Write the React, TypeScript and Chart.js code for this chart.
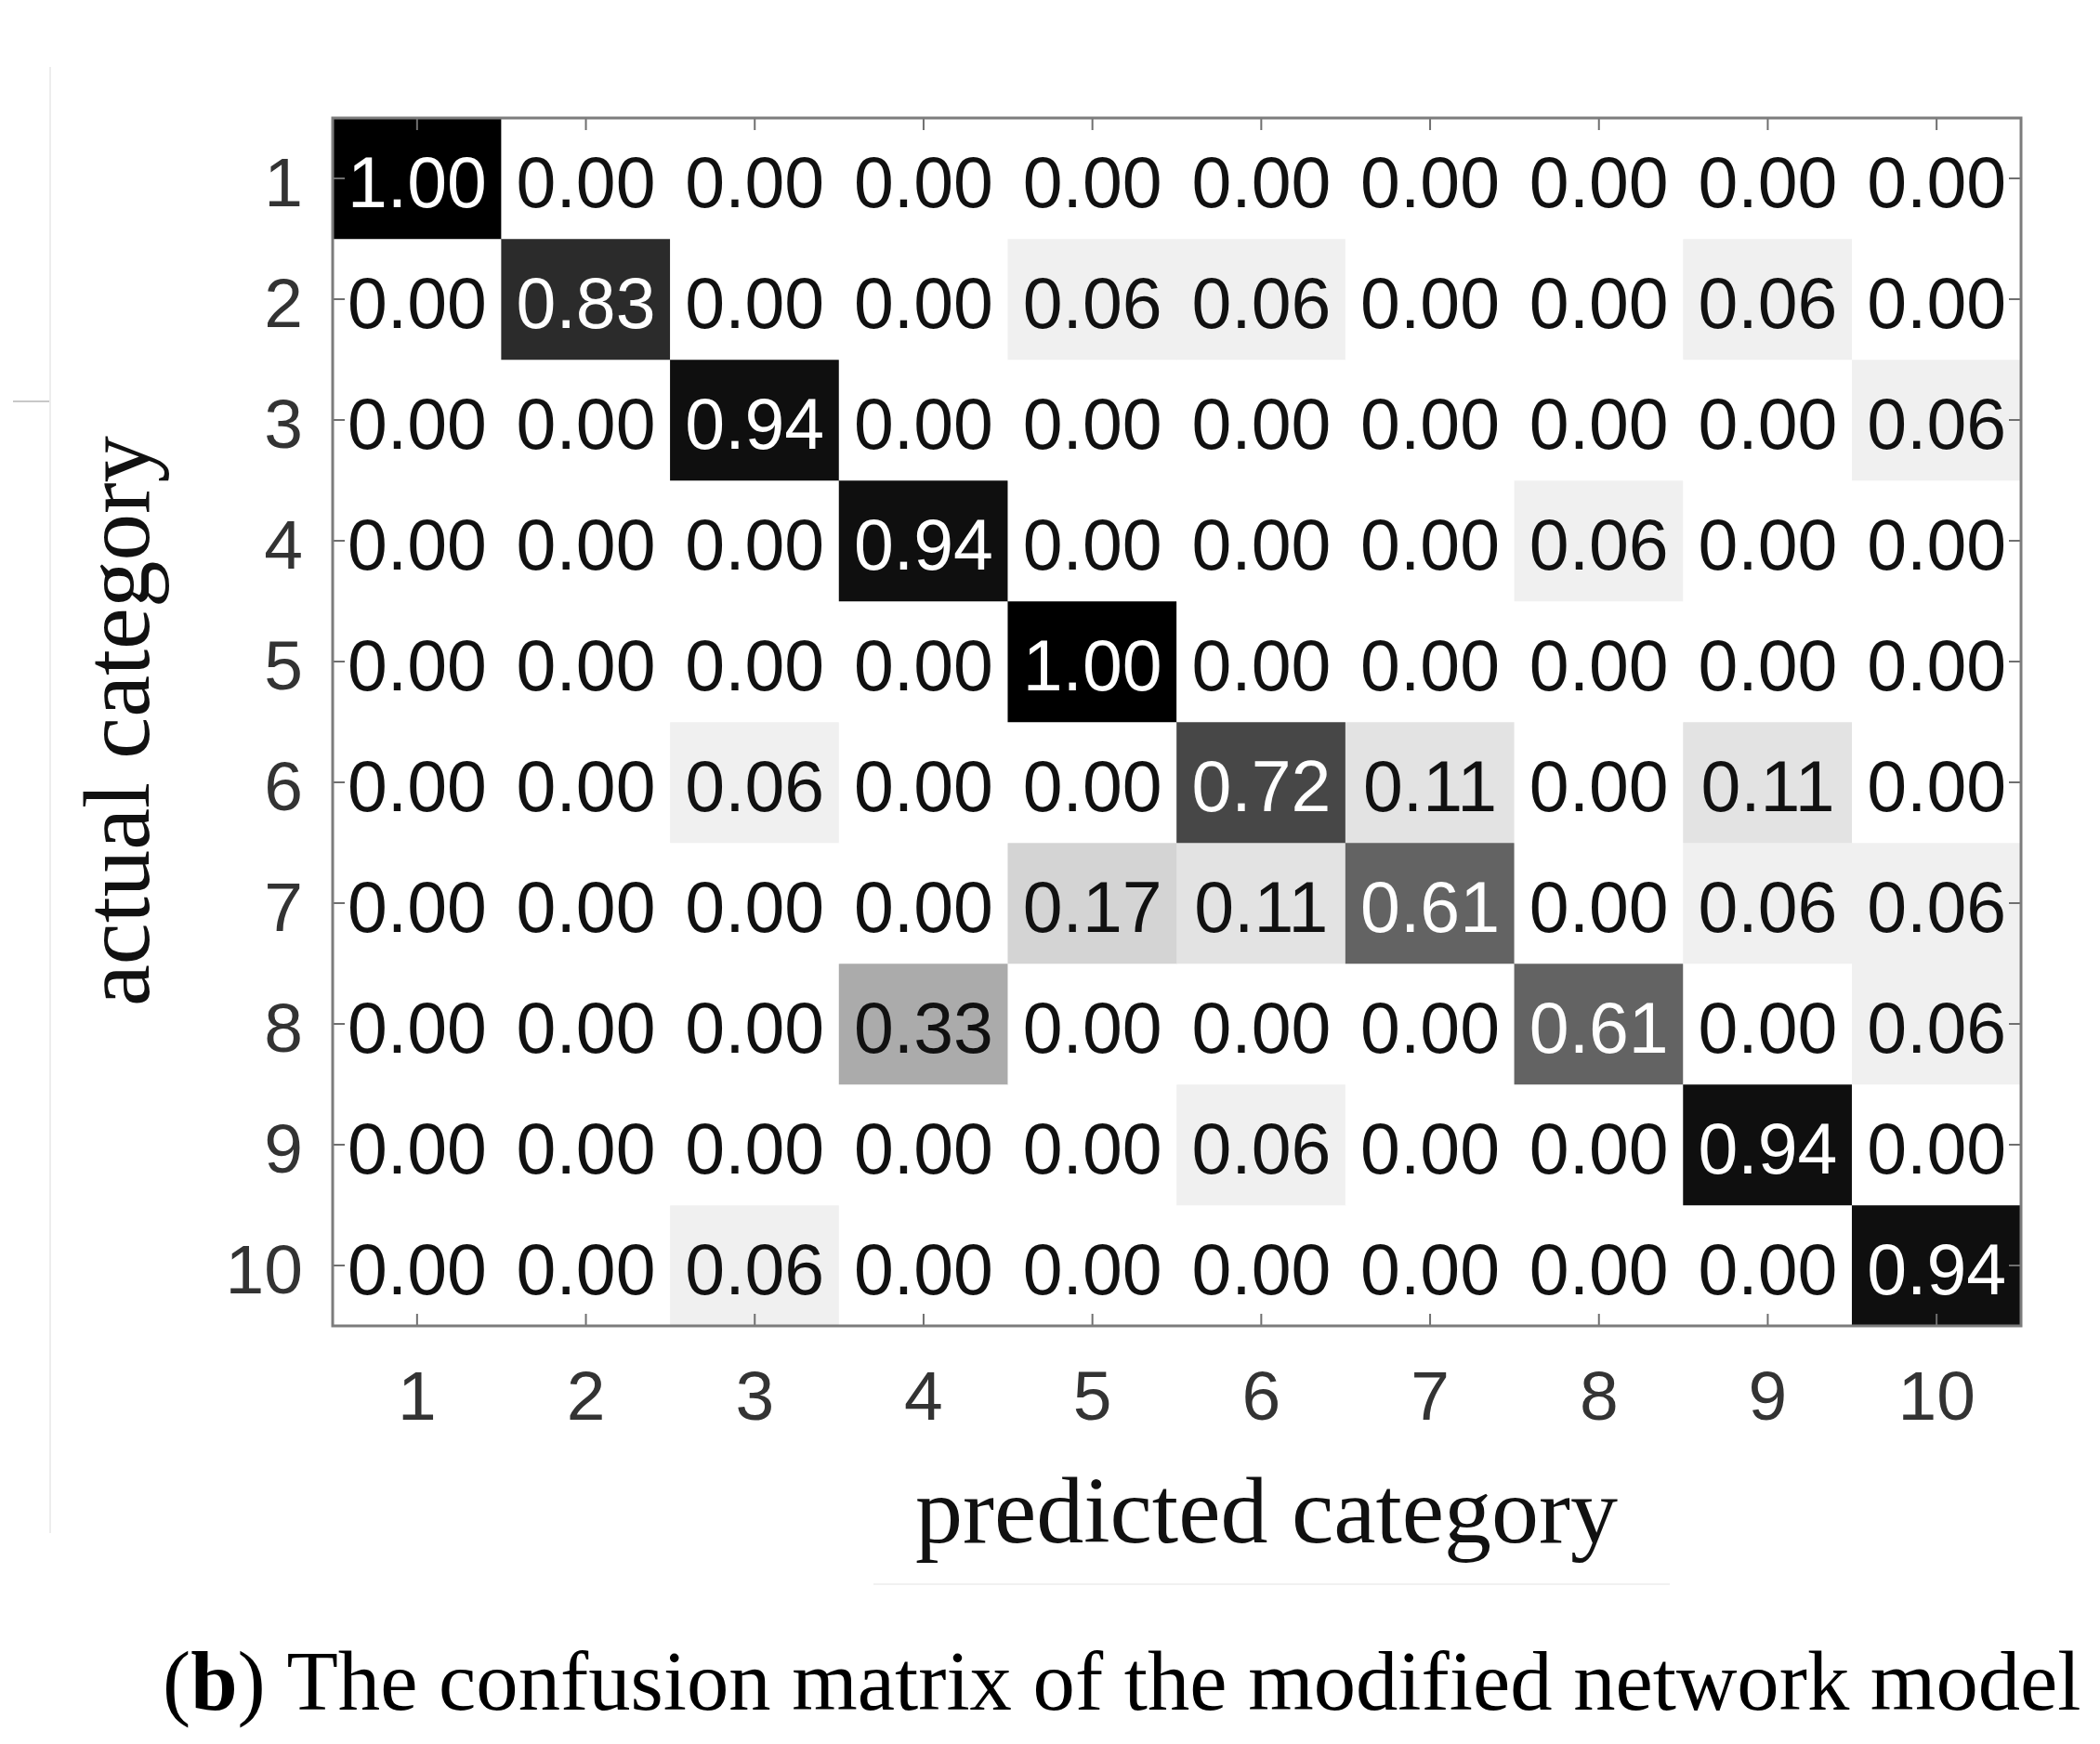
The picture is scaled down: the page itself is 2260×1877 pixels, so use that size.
import React, { useEffect, useRef } from "react";
import { Chart, registerables } from "chart.js";

Chart.register(...registerables);

// ---- data ----
const predictedLabels = ["1", "2", "3", "4", "5", "6", "7", "8", "9", "10"];
const actualLabels = ["1", "2", "3", "4", "5", "6", "7", "8", "9", "10"];

const row1 = [1.0, 0.0, 0.0, 0.0, 0.0, 0.0, 0.0, 0.0, 0.0, 0.0];
const row2 = [0.0, 0.83, 0.0, 0.0, 0.06, 0.06, 0.0, 0.0, 0.06, 0.0];
const row3 = [0.0, 0.0, 0.94, 0.0, 0.0, 0.0, 0.0, 0.0, 0.0, 0.06];
const row4 = [0.0, 0.0, 0.0, 0.94, 0.0, 0.0, 0.0, 0.06, 0.0, 0.0];
const row5 = [0.0, 0.0, 0.0, 0.0, 1.0, 0.0, 0.0, 0.0, 0.0, 0.0];
const row6 = [0.0, 0.0, 0.06, 0.0, 0.0, 0.72, 0.11, 0.0, 0.11, 0.0];
const row7 = [0.0, 0.0, 0.0, 0.0, 0.17, 0.11, 0.61, 0.0, 0.06, 0.06];
const row8 = [0.0, 0.0, 0.0, 0.33, 0.0, 0.0, 0.0, 0.61, 0.0, 0.06];
const row9 = [0.0, 0.0, 0.0, 0.0, 0.0, 0.06, 0.0, 0.0, 0.94, 0.0];
const row10 = [0.0, 0.0, 0.06, 0.0, 0.0, 0.0, 0.0, 0.0, 0.0, 0.94];
const matrix = [row1, row2, row3, row4, row5, row6, row7, row8, row9, row10];

const xTitle = "predicted category";
const yTitle = "actual category";
const captionOpen = "(";
const captionBold = "b";
const captionRest = ") The confusion matrix of the modified network model";

// ---- styling ----
const W = 2260;
const H = 1877;
const SANS = '"Liberation Sans", Arial, sans-serif';
const SERIF = '"Liberation Serif", "Times New Roman", serif';
const NUM_SIZE = 77;

function cellColor(v: number): string {
  const g = Math.round(255 * (1 - v));
  return `rgb(${g},${g},${g})`;
}

const cellTextPlugin = {
  id: "cellText",
  afterDatasetsDraw(chart: any) {
    const ctx = chart.ctx;
    ctx.save();
    ctx.font = `${NUM_SIZE}px ${SANS}`;
    ctx.textAlign = "center";
    ctx.textBaseline = "alphabetic";
    chart.data.datasets.forEach((_ds: any, di: number) => {
      const meta = chart.getDatasetMeta(di);
      meta.data.forEach((bar: any, ci: number) => {
        const v = matrix[di][ci];
        const cy = (bar.y + bar.base) / 2;
        ctx.fillStyle = v > 0.5 ? "#ffffff" : "#111111";
        ctx.fillText(v.toFixed(2), bar.x, cy + (NUM_SIZE * 0.716) / 2 + 3);
      });
    });
    ctx.restore();
  },
};

const framePlugin = {
  id: "frameAndTitles",
  afterDraw(chart: any) {
    const ctx = chart.ctx;
    const { left, right, top, bottom } = chart.chartArea;
    const xs = chart.scales.x;
    const ys = chart.scales.y;
    ctx.save();
    const line = (x1: number, y1: number, x2: number, y2: number) => {
      ctx.beginPath();
      ctx.moveTo(x1, y1);
      ctx.lineTo(x2, y2);
      ctx.stroke();
    };
    // ticks
    ctx.strokeStyle = "#6f6f6f";
    ctx.lineWidth = 2;
    const tl = 13;
    xs.ticks.forEach((_t: any, i: number) => {
      const px = xs.getPixelForTick(i);
      line(px, bottom, px, bottom - tl);
      line(px, top, px, top + tl);
    });
    ys.ticks.forEach((_t: any, i: number) => {
      const py = ys.getPixelForTick(i);
      line(left, py, left + tl, py);
      line(right, py, right - tl, py);
    });
    // frame
    ctx.strokeStyle = "#7c7c7c";
    ctx.lineWidth = 3;
    ctx.strokeRect(left, top, right - left, bottom - top);

    // faint scan borders
    ctx.strokeStyle = "#ededed";
    ctx.lineWidth = 2;
    line(54, 72, 54, 1650);
    ctx.strokeStyle = "#c8c8c8";
    line(14, 432, 53, 432);
    ctx.strokeStyle = "#f1f1f1";
    line(940, 1705, 1797, 1705);

    // axis titles
    ctx.fillStyle = "#111111";
    ctx.font = `102px ${SERIF}`;
    ctx.textAlign = "center";
    ctx.textBaseline = "alphabetic";
    ctx.fillText(xTitle, 1363, 1660);

    ctx.save();
    ctx.translate(160, 776);
    ctx.rotate(-Math.PI / 2);
    ctx.font = `101px ${SERIF}`;
    ctx.fillText(yTitle, 0, 0);
    ctx.restore();

    // caption
    ctx.fillStyle = "#000000";
    ctx.textAlign = "left";
    ctx.font = `100px ${SERIF}`;
    const w1 = ctx.measureText(captionOpen).width;
    const w3 = ctx.measureText(captionRest).width;
    ctx.font = `bold 100px ${SERIF}`;
    const w2 = ctx.measureText(captionBold).width;
    const size = (100 * 2065) / (w1 + w2 + w3);
    let cx = 175;
    const by = 1840;
    ctx.font = `${size}px ${SERIF}`;
    ctx.fillText(captionOpen, cx, by);
    cx += ctx.measureText(captionOpen).width;
    ctx.font = `bold ${size}px ${SERIF}`;
    ctx.fillText(captionBold, cx, by);
    cx += ctx.measureText(captionBold).width;
    ctx.font = `${size}px ${SERIF}`;
    ctx.fillText(captionRest, cx, by);

    ctx.restore();
  },
};

export default function App() {
  const canvasRef = useRef<HTMLCanvasElement | null>(null);

  useEffect(() => {
    if (!canvasRef.current) return;
    const datasets = matrix.map((row, ri) => ({
      label: actualLabels[ri],
      data: row.map(() => [ri + 0.5, ri + 1.5]),
      backgroundColor: row.map((v) => cellColor(v)),
      borderWidth: 0,
      borderSkipped: false,
      barPercentage: 1,
      categoryPercentage: 1,
      grouped: false,
    }));

    const chart = new Chart(canvasRef.current, {
      type: "bar",
      data: { labels: predictedLabels, datasets: datasets as any },
      options: {
        responsive: false,
        animation: false,
        devicePixelRatio: 1,
        layout: { padding: { left: 0, top: 127, right: 85, bottom: 0 } },
        plugins: {
          legend: { display: false },
          tooltip: { enabled: false },
          title: { display: false },
        },
        scales: {
          x: {
            type: "category",
            offset: true,
            grid: { display: false, drawTicks: false },
            border: { display: false },
            ticks: {
              padding: 35,
              color: "#333333",
              font: { family: SANS, size: 75 },
              maxRotation: 0,
              autoSkip: false,
            },
            afterFit(scale: any) {
              scale.height = 450;
            },
          },
          y: {
            type: "linear",
            min: 0.5,
            max: 10.5,
            reverse: true,
            grid: { display: false, drawTicks: false },
            border: { display: false },
            afterBuildTicks(scale: any) {
              scale.ticks = actualLabels.map((_l, i) => ({ value: i + 1 }));
            },
            ticks: {
              padding: 32,
              labelOffset: 9,
              color: "#333333",
              font: { family: SANS, size: 75 },
              autoSkip: false,
              callback: (value: any) => actualLabels[Number(value) - 1] ?? "",
            },
            afterFit(scale: any) {
              scale.width = 358;
            },
          },
        },
      },
      plugins: [cellTextPlugin, framePlugin],
    });
    return () => chart.destroy();
  }, []);

  return (
    <div style={{ position: "absolute", left: 0, top: 0, width: W, height: H, background: "#ffffff" }}>
      <canvas ref={canvasRef} width={W} height={H} style={{ display: "block", width: W, height: H }} />
    </div>
  );
}
